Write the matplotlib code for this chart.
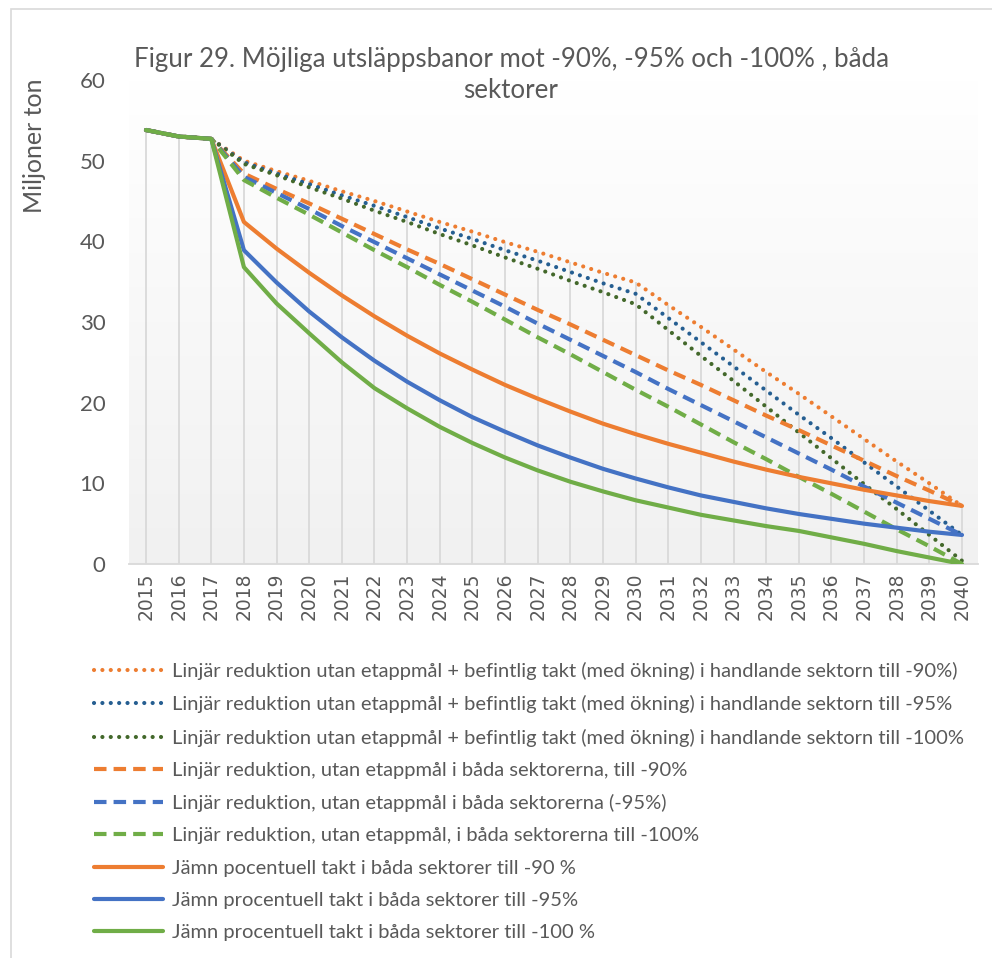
import matplotlib
matplotlib.use("Agg")
import matplotlib.pyplot as plt
import numpy as np
from matplotlib.patches import Rectangle

plt.rcParams['font.family'] = ['Lato', 'DejaVu Sans']

years = list(range(2015, 2041))
start = [53.8, 53.0, 52.7]  # 2015-2017 common

dot_o = start + [50.0, 48.7, 47.5, 46.2, 45.0, 43.7, 42.4, 41.2, 39.9, 38.7, 37.4, 36.1, 34.9,
                 32.1, 29.4, 26.6, 23.8, 21.1, 18.3, 15.5, 12.7, 10.0, 7.2]
dot_b = start + [49.8, 48.4, 47.1, 45.7, 44.4, 43.0, 41.6, 40.3, 38.9, 37.6, 36.2, 34.8, 33.5,
                 30.5, 27.5, 24.5, 21.5, 18.5, 15.6, 12.6, 9.6, 6.6, 3.6]
dot_g = start + [49.6, 48.2, 46.7, 45.3, 43.8, 42.4, 40.9, 39.5, 38.0, 36.6, 35.1, 33.7, 32.2,
                 29.0, 25.8, 22.7, 19.5, 16.3, 13.1, 9.9, 6.8, 3.6, 0.4]
dash_o = start + [48.4, 46.5, 44.7, 42.8, 40.9, 39.0, 37.2, 35.3, 33.4, 31.5, 29.7, 27.8, 25.9,
                  24.0, 22.2, 20.3, 18.4, 16.6, 14.7, 12.8, 10.9, 9.1, 7.2]
dash_b = start + [48.0, 46.0, 44.0, 41.9, 39.9, 37.9, 35.9, 33.9, 31.9, 29.8, 27.8, 25.8, 23.8,
                  21.7, 19.7, 17.7, 15.7, 13.7, 11.7, 9.6, 7.6, 5.6, 3.6]
dash_g = start + [47.6, 45.4, 43.3, 41.1, 38.9, 36.8, 34.6, 32.5, 30.3, 28.1, 26.0, 23.8, 21.6,
                  19.5, 17.3, 15.1, 13.0, 10.8, 8.7, 6.5, 4.3, 2.2, 0.0]
sol_o = start + [42.4, 39.1, 36.1, 33.3, 30.7, 28.3, 26.1, 24.1, 22.2, 20.5, 18.9, 17.4, 16.1,
                 14.9, 13.8, 12.7, 11.7, 10.8, 10.0, 9.2, 8.5, 7.8, 7.2]
sol_b = start + [38.9, 34.9, 31.3, 28.1, 25.2, 22.6, 20.3, 18.2, 16.4, 14.7, 13.2, 11.8, 10.6,
                 9.5, 8.5, 7.7, 6.9, 6.2, 5.6, 5.0, 4.5, 4.0, 3.6]
sol_g = start + [36.8, 32.3, 28.6, 25.0, 21.8, 19.3, 17.0, 15.0, 13.2, 11.6, 10.2, 9.0, 7.9,
                 7.0, 6.1, 5.4, 4.7, 4.1, 3.3, 2.5, 1.6, 0.8, 0.0]

labels = [
    "Linjär reduktion utan etappmål + befintlig takt (med ökning) i handlande sektorn till -90%)",
    "Linjär reduktion utan etappmål + befintlig takt (med ökning) i handlande sektorn till -95%",
    "Linjär reduktion utan etappmål + befintlig takt (med ökning) i handlande sektorn till -100%",
    "Linjär reduktion, utan etappmål i båda sektorerna, till -90%",
    "Linjär reduktion, utan etappmål i båda sektorerna (-95%)",
    "Linjär reduktion, utan etappmål, i båda sektorerna till -100%",
    "Jämn pocentuell takt i båda sektorer till -90 %",
    "Jämn procentuell takt i båda sektorer till -95%",
    "Jämn procentuell takt i båda sektorer till -100 %",
]
series = [dot_o, dot_b, dot_g, dash_o, dash_b, dash_g, sol_o, sol_b, sol_g]
colors = ["#ED7D31", "#255E91", "#43682B", "#ED7D31", "#4472C4", "#70AD47",
          "#ED7D31", "#4472C4", "#70AD47"]
styles = ["dot"] * 3 + ["dash"] * 3 + ["solid"] * 3

title = "Figur 29. Möjliga utsläppsbanor mot -90%, -95% och -100% , båda\nsektorer"
ylabel = "Miljoner ton"
yticks = [0, 10, 20, 30, 40, 50, 60]

W, H = 992, 958
fig = plt.figure(figsize=(W / 100, H / 100), dpi=100)
fig.patch.set_facecolor("white")

# outer chart border
fig.add_artist(Rectangle((11 / W, -0.01), 1.0, 1 - 9 / H + 0.01, transform=fig.transFigure,
                         fill=False, edgecolor="#d9d9d9", linewidth=1.2))

ax = fig.add_axes([129 / W, 1 - 564 / H, (978 - 129) / W, (564 - 80) / H])
ax.set_facecolor("none")
xl = (2015 - 17 / 32.64, 2040 + 16 / 32.64)
ax.set_xlim(*xl)
ax.set_ylim(0, 60)

# gradient background
grad = np.linspace(1.0, 0.0, 256).reshape(-1, 1)
top = np.array([1.0, 1.0, 1.0])
bot = np.array([0.945, 0.945, 0.945])
img = grad[..., None] * top + (1 - grad[..., None]) * bot
ax.imshow(img, extent=[xl[0], xl[1], 0, 60], aspect="auto", zorder=0, origin="upper")

# drop lines
arr = np.array(series)
ax.vlines(years, 0, arr.max(axis=0), colors="#d9d9d9", linewidth=1.3, zorder=1)

handles = []
for s, c, st, lab in zip(series, colors, styles, labels):
    if st == "dot":
        ln, = ax.plot(years, s, color=c, linewidth=3.0, linestyle=(0, (0.01, 2.0)),
                      dash_capstyle="round", solid_capstyle="round", label=lab, zorder=3)
    elif st == "dash":
        ln, = ax.plot(years, s, color=c, linewidth=3.0, linestyle=(0, (3.0, 1.7)),
                      dash_capstyle="butt", label=lab, zorder=3)
    else:
        ln, = ax.plot(years, s, color=c, linewidth=3.0, solid_capstyle="round",
                      solid_joinstyle="round", label=lab, zorder=3)
    handles.append(ln)

for sp in ["left", "right", "top"]:
    ax.spines[sp].set_visible(False)
ax.spines["bottom"].set_color("#d9d9d9")
ax.spines["bottom"].set_linewidth(1.3)
ax.spines["bottom"].set_zorder(2)

ax.set_xticks(years)
ax.set_xticklabels([str(y) for y in years], rotation=90, fontsize=13.5,
                   family=["DejaVu Sans"], color="#595959")
ax.set_yticks(yticks)
ax.set_yticklabels([str(v) for v in yticks], fontsize=16, color="#595959")
ax.tick_params(axis="x", length=0, pad=6)
ax.tick_params(axis="y", length=0, pad=17)

fig.text(35 / W, 1 - 146 / H, ylabel, rotation=90, ha="center", va="center",
         fontsize=18, color="#595959")
fig.text(511 / W, 1 - 75 / H, title, ha="center", va="center", fontsize=18.6,
         color="#595959", linespacing=1.3)

leg = fig.legend(handles=handles, loc="upper left", bbox_to_anchor=(94 / W, 1 - 662 / H),
                 frameon=False, fontsize=14.5, handlelength=3.45, handletextpad=0.4,
                 labelspacing=0.755, borderpad=0, borderaxespad=0)
for t in leg.get_texts():
    t.set_color("#595959")

fig.savefig("out.png", dpi=100)
